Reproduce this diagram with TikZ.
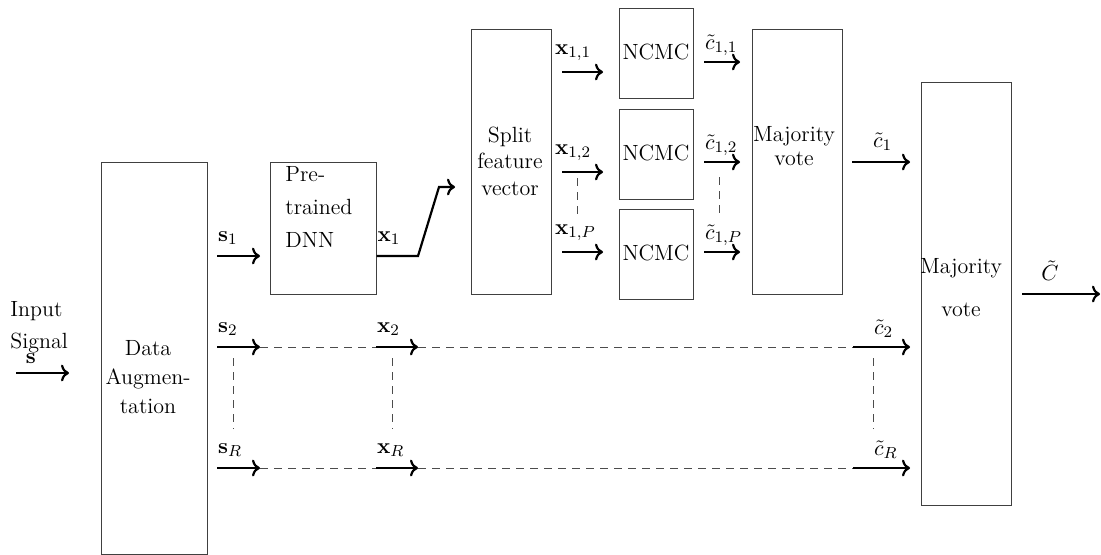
\documentclass[tikz,border=0pt]{standalone}
\usetikzlibrary{arrows.meta,positioning,fit,calc}
\begin{document}
\begin{tikzpicture}[
  x=0.5pt, y=-0.5pt, >={To},
  font=\fontsize{11}{13.2}\selectfont,
  blockbox/.style={draw=black!75, line width=0.5pt, inner sep=0pt},
  sig/.style={->, line width=1.1pt},
  gapline/.style={dash pattern=on 4pt off 3pt, draw=black!70, line width=0.5pt},
  sym/.style={anchor=south west, inner sep=0pt, yshift=5pt},
  csym/.style={anchor=south west, inner sep=0pt, yshift=2.5pt},
]
\useasboundingbox (0,0) rectangle (1101,554);

% --- blocks ---
\node[blockbox, fit={(101,162) (207,554)}] (aug) {};
\node[blockbox, fit={(270,162) (376,294)}] (dnn) {};
\node[blockbox, fit={(471,29) (551,294)}] (split) {};
\node[blockbox, fit={(619,8) (693,98)}] (ncmc1) {};
\node[blockbox, fit={(619,109) (693,199)}] (ncmc2) {};
\node[blockbox, fit={(619,209) (693,299)}] (ncmcP) {};
\node[blockbox, fit={(752,29) (842,294)}] (vote1) {};
\node[blockbox, fit={(921,82) (1011,505)}] (vote) {};

% block texts
\node[align=left, anchor=south west, inner sep=0pt] (inlab) at (10,353) {Input\\[2.8pt]Signal};
\node[align=center] (augtext) at (148,377) {Data\\[1.3pt]Augmen-\\[1.3pt]tation};
\node[align=left, anchor=west, inner sep=0pt] (dnntext) at (285,207) {Pre-\\[3.3pt]trained\\[3.3pt]DNN};
\node[align=center] (splittext) at (510,161) {Split\\feature\\vector};
\node (ncmc1text) at (656,52) {NCMC};
\node (ncmc2text) at (656,153) {NCMC};
\node (ncmcPtext) at (656,253) {NCMC};
\node[align=center] (vote1text) at (794,146) {Majority\\[-1.5pt]vote};
\node[align=center] (votetext) at (961,288) {Majority\\[8.3pt]vote};

% --- input and first branch ---
\coordinate (ina) at (16,373);
\coordinate (inb) at (69,373);
\draw[sig] (ina) -- (inb) node[pos=0.28, above, inner sep=0pt, yshift=4pt] (slab) {$\mathbf{s}$};

\coordinate (s1a) at (217,256);
\coordinate (s1b) at (260,256);
\draw[sig] (s1a) -- (s1b) node[sym, pos=0] (s1lab) {$\mathbf{s}_1$};

\coordinate (x1knee) at (418,256);
\coordinate (x1top) at (439,187);
\coordinate (x1end) at (455,187);
\draw[sig] (dnn.east |- s1b) node[sym] (x1lab) {$\mathbf{x}_1$}
  -- (x1knee) -- (x1top) -- (x1end);

% split outputs and classifier outputs
\foreach \y/\i in {72/1, 172/2, 252/P} {
  \coordinate (x1\i a) at (562,\y);
  \coordinate (x1\i b) at (603,\y);
  \draw[sig] (x1\i a) -- (x1\i b) node[sym, pos=0, xshift=-4] (x1\i lab) {$\mathbf{x}_{1,\i}$};
}
\foreach \y/\i in {62/1, 162/2, 252/P} {
  \coordinate (c1\i a) at (704,\y);
  \coordinate (c1\i b) at (740,\y);
  \draw[sig] (c1\i a) -- (c1\i b) node[csym, pos=0] (c1\i lab) {$\tilde{c}_{1,\i}$};
}
\coordinate (xdota) at (577,178);
\coordinate (xdotb) at (577,217);
\coordinate (cdota) at (719,177);
\coordinate (cdotb) at (719,217);
\draw[gapline] (xdota) -- (xdotb);
\draw[gapline] (cdota) -- (cdotb);

\coordinate (c1a) at (852,162);
\coordinate (c1b) at (910,162);
\draw[sig] (c1a) -- (c1b) node[sym, pos=0, xshift=10] (c1lab) {$\tilde{c}_1$};

% --- remaining branches 2 ... R ---
\foreach \y/\r in {347/2, 468/R} {
  \coordinate (s\r a) at (217,\y);
  \coordinate (s\r b) at (260,\y);
  \coordinate (x\r a) at (376,\y);
  \coordinate (x\r b) at (418,\y);
  \coordinate (c\r a) at (853,\y);
  \coordinate (c\r b) at (910,\y);
  \draw[sig] (s\r a) -- (s\r b) node[sym, pos=0] (s\r lab) {$\mathbf{s}_\r$};
  \draw[gapline] (s\r b) -- (x\r a);
  \draw[sig] (x\r a) -- (x\r b) node[sym, pos=0] (x\r lab) {$\mathbf{x}_\r$};
  \draw[gapline] (x\r b) -- (c\r a);
  \draw[sig] (c\r a) -- (c\r b) node[sym, pos=0, xshift=10, yshift=-1pt] (c\r lab) {$\tilde{c}_\r$};
}
\foreach \x/\n in {233/s, 392/x, 873/c} {
  \coordinate (\n dota) at (\x,358);
  \coordinate (\n dotb) at (\x,429);
  \draw[gapline] (\n dota) -- (\n dotb);
}

% --- final decision ---
\coordinate (outa) at (1022,294);
\coordinate (outb) at (1100,294);
\draw[sig] (outa) -- (outb) node[pos=0.36, above, inner sep=0pt, yshift=6pt] (Clab) {$\tilde{C}$};

\end{tikzpicture}
\end{document}
